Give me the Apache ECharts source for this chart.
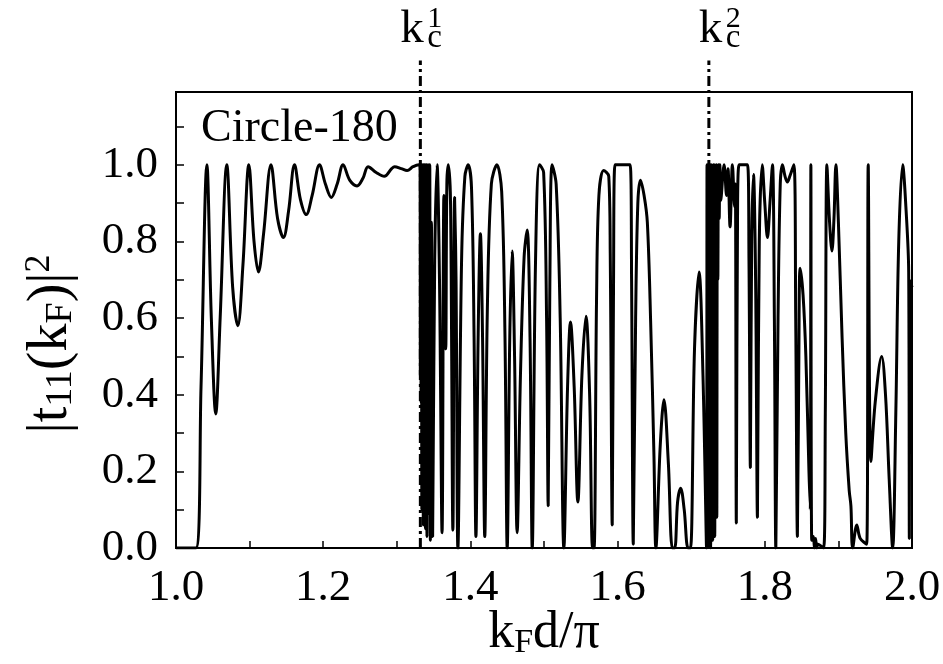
<!DOCTYPE html>
<html>
<head>
<meta charset="utf-8">
<script src="https://cdn.jsdelivr.net/npm/echarts@6/dist/echarts.min.js"></script>
<style>
  html, body { margin: 0; padding: 0; background: #fff; }
  #main { width: 943px; height: 664px; }
</style>
</head>
<body>
<div id="main"></div>
<script>
// |t11(kF)|^2 against kF d / pi as [x, y] pairs
const fabryPerot = [
  [1.000, 0], [1.027, 0], [1.034, 0.42], [1.042, 1.0], [1.048, 0.6], [1.054, 0.35],
  [1.060, 0.6], [1.069, 1.0], [1.077, 0.68], [1.084, 0.58], [1.091, 0.74], [1.099, 1.0],
  [1.106, 0.8], [1.112, 0.72], [1.119, 0.82], [1.129, 1.0], [1.138, 0.86], [1.146, 0.81],
  [1.153, 0.88], [1.161, 1.0], [1.169, 0.91], [1.177, 0.87], [1.185, 0.92], [1.195, 1.0],
  [1.203, 0.95], [1.211, 0.915], [1.219, 0.95], [1.227, 1.0], [1.236, 0.96], [1.246, 0.945],
  [1.254, 0.965], [1.261, 0.995], [1.272, 0.98], [1.283, 0.97], [1.293, 0.99], [1.297, 0.995],
  [1.306, 0.99], [1.314, 0.985], [1.322, 0.995], [1.330, 1.0]
];
const bandOne = [
  [1.3315, 1.0], [1.3320, 0.45], [1.3325, 1.0], [1.3330, 0.38], [1.3335, 1.0], [1.3340, 0.1],
  [1.3345, 1.0], [1.3350, 0.42], [1.3355, 0.99], [1.3360, 0.06], [1.3365, 1.0], [1.3370, 0.38],
  [1.3375, 1.0], [1.3380, 0.4], [1.3385, 0.98], [1.3390, 0.05], [1.3395, 1.0], [1.3400, 0.37],
  [1.3405, 1.0], [1.3410, 0.03], [1.3415, 0.99], [1.3420, 0.4], [1.3425, 1.0], [1.3430, 0.09],
  [1.3436, 0.98], [1.3442, 0.38], [1.3448, 1.0], [1.3456, 0.02], [1.3470, 0.85], [1.3487, 0.03]
];
const middleBand = [
  [1.3515, 0.75], [1.3547, 1.0], [1.3580, 0.7], [1.3615, 0.04], [1.3640, 0.92], [1.3665, 0.52],
  [1.3680, 0.95], [1.3700, 1.0], [1.3730, 0.9], [1.3762, 0.047], [1.3785, 0.915], [1.3805, 0.7],
  [1.3830, 0.0], [1.3880, 0.75], [1.3925, 0.97], [1.3970, 1.0], [1.4015, 0.94], [1.4050, 0.55],
  [1.4075, 0.03], [1.4105, 0.55], [1.4136, 0.82], [1.4165, 0.55], [1.4195, 0.03], [1.4230, 0.62],
  [1.4285, 0.95], [1.4360, 1.0], [1.4425, 0.93], [1.4470, 0.55], [1.4500, 0.0], [1.4535, 0.55],
  [1.4567, 0.775], [1.4600, 0.5], [1.4635, 0.04], [1.4680, 0.45], [1.4730, 0.76], [1.4771, 0.83],
  [1.4810, 0.55], [1.4840, 0.0], [1.4885, 0.75], [1.4940, 1.0], [1.4995, 0.98], [1.5035, 0.6],
  [1.5057, 0.11], [1.5080, 0.7], [1.5110, 1.0], [1.5165, 0.95], [1.5220, 0.6], [1.5270, 0.0],
  [1.5320, 0.42], [1.5360, 0.59], [1.5410, 0.42], [1.5460, 0.12], [1.5515, 0.45], [1.5570, 0.605],
  [1.5620, 0.4], [1.5660, 0.0]
];
const upperBand = [
  [1.5680, 0.0], [1.5714, 0.65], [1.5746, 0.92], [1.5810, 0.985], [1.5880, 0.97], [1.5900, 0.77],
  [1.5927, 0.06], [1.5945, 0.7], [1.5965, 1.0], [1.6070, 1.0], [1.6170, 1.0], [1.6190, 0.7],
  [1.6213, 0.01], [1.6245, 0.6], [1.6275, 0.9], [1.6310, 0.96], [1.6360, 0.92], [1.6404, 0.85],
  [1.6449, 0.59], [1.6494, 0.24], [1.6520, 0.0], [1.6580, 0.27], [1.6630, 0.387], [1.6690, 0.22],
  [1.6744, 0.0], [1.6776, 0.0], [1.6815, 0.12], [1.6857, 0.156], [1.6905, 0.1], [1.6957, 0.0],
  [1.6990, 0.0], [1.7045, 0.52], [1.7107, 0.72], [1.7160, 0.45], [1.7208, 0.0]
];
const bandTwo = [
  [1.7215, 1.0], [1.7222, 0.08], [1.7229, 1.0], [1.7236, 0.02], [1.7243, 0.98], [1.7250, 0.3],
  [1.7257, 1.0], [1.7264, 0.0], [1.7271, 1.0], [1.7278, 0.15], [1.7285, 0.99], [1.7292, 0.02],
  [1.7299, 1.0], [1.7306, 0.45], [1.7313, 1.0], [1.7320, 0.03], [1.7327, 0.97], [1.7334, 0.5],
  [1.7341, 1.0], [1.7348, 0.08], [1.7355, 0.98], [1.7362, 0.7], [1.7370, 1.0], [1.7380, 0.86],
  [1.7390, 1.0], [1.7401, 0.907]
];
const topBand = [
  [1.7447, 1.0], [1.7480, 0.92], [1.7500, 0.99], [1.7528, 0.838], [1.7560, 1.0], [1.7590, 0.89],
  [1.7600, 0.95], [1.7613, 0.065], [1.7628, 0.8], [1.7650, 1.0], [1.7710, 1.0], [1.7765, 1.0],
  [1.7785, 0.75], [1.7804, 0.21], [1.7822, 0.8], [1.7846, 0.975], [1.7875, 0.7], [1.7900, 0.08],
  [1.7925, 0.8], [1.7965, 1.0], [1.8000, 0.9], [1.8036, 0.81], [1.8070, 0.9], [1.8104, 1.0],
  [1.8130, 0.6], [1.8150, 0.0], [1.8180, 0.6], [1.8210, 0.95], [1.8240, 1.0], [1.8275, 0.97],
  [1.8307, 0.955], [1.8340, 0.97], [1.8395, 1.0], [1.8420, 0.6], [1.8443, 0.03], [1.8463, 0.5],
  [1.8480, 0.73], [1.8520, 0.66], [1.8558, 0.5], [1.8600, 0.2], [1.8618, 0.1], [1.8626, 1.0],
  [1.8638, 0.02], [1.8660, 0.03], [1.8675, 0.0], [1.8690, 0.025], [1.8705, 0.0], [1.8720, 0.01],
  [1.8800, 0.0], [1.8822, 0.35], [1.8844, 1.0], [1.8880, 0.85], [1.8912, 0.775], [1.8940, 0.86],
  [1.8966, 1.0], [1.9000, 0.85], [1.9050, 0.55], [1.9100, 0.3], [1.9147, 0.15], [1.9170, 0.11],
  [1.9194, 0.0], [1.9250, 0.06], [1.9296, 0.025], [1.9385, 0.01], [1.9405, 1.0], [1.9442, 0.226],
  [1.9500, 0.38], [1.9588, 0.5], [1.9640, 0.4], [1.9690, 0.18], [1.9737, 0.0], [1.9780, 0.35],
  [1.9820, 0.8], [1.9873, 1.0], [1.9920, 0.88], [1.9955, 0.72], [1.9964, 0.025], [1.9975, 0.7],
  [2.0000, 0.68]
];

// critical wave numbers (dash-dot markers) and how high the markers reach
const KC = [1.332, 1.724];
const KC_SUP = ['1', '2'];
const KC_TOP = 1.272;

const SERIF = '"Liberation Serif", "Times New Roman", serif';

var chartDom = document.getElementById('main');
var myChart = echarts.init(chartDom);
var option;

const curve = fabryPerot.concat(bandOne, middleBand, upperBand, bandTwo, topBand);

function everyOther(v) {
  const tenth = Math.round(v * 10);
  if (tenth % 2 !== 0 || v > 2.0001) return '';
  return (tenth / 10).toFixed(1);
}

function kcSeries() {
  return KC.map(k => ({
    type: 'line',
    data: [[k, 0], [k, KC_TOP]],
    symbol: 'none',
    clip: false,
    silent: true,
    lineStyle: { color: '#000', width: 3, type: [10, 4, 3, 4] },
    z: 3
  }));
}

option = {
  backgroundColor: '#fff',
  animation: false,
  title: {
    text: 'Circle-180',
    left: 201,
    top: 106,
    padding: 0,
    textStyle: { fontFamily: SERIF, fontSize: 46, fontWeight: 'normal', color: '#000' }
  },
  grid: {
    left: 176, right: 31, top: 92, bottom: 116,
    show: true, borderColor: '#000', borderWidth: 2,
    outerBoundsMode: 'none'
  },
  xAxis: {
    type: 'value',
    min: 1, max: 2, interval: 0.1,
    name: 'k{s|F}d/π',
    nameLocation: 'middle',
    nameGap: 58,
    nameMoveOverlap: false,
    nameTextStyle: {
      fontFamily: SERIF, fontSize: 52, color: '#000', lineHeight: 54,
      rich: { s: { fontFamily: SERIF, fontSize: 34, color: '#000', verticalAlign: 'bottom', lineHeight: 7 } }
    },
    axisLine: { lineStyle: { color: '#000', width: 2 } },
    axisTick: { inside: true, length: 7, lineStyle: { color: '#000', width: 1.5 } },
    axisLabel: {
      margin: 18, color: '#000', fontFamily: SERIF, fontSize: 45,
      formatter: everyOther, showMinLabel: true, showMaxLabel: true
    },
    splitLine: { show: false }
  },
  yAxis: {
    type: 'value',
    min: 0, max: 1.19, interval: 0.1,
    name: '|t{s|11}(k{s|F})|{p|2}',
    nameLocation: 'middle',
    nameRotate: 90,
    nameGap: 96,
    nameMoveOverlap: false,
    nameTextStyle: {
      fontFamily: SERIF, fontSize: 56, color: '#000', lineHeight: 58,
      padding: [0, 48, 0, 0],
      rich: {
        s: { fontFamily: SERIF, fontSize: 38, color: '#000', verticalAlign: 'bottom', lineHeight: 24 },
        p: { fontFamily: SERIF, fontSize: 36, color: '#000', verticalAlign: 'top', lineHeight: 2 }
      }
    },
    axisLine: { lineStyle: { color: '#000', width: 2 } },
    axisTick: { inside: true, length: 8, lineStyle: { color: '#000', width: 1.5 } },
    axisLabel: {
      margin: 18, color: '#000', fontFamily: SERIF, fontSize: 45,
      formatter: v => (v > 1.0001 ? '' : everyOther(v))
    },
    splitLine: { show: false }
  },
  series: [
    {
      type: 'line',
      data: curve,
      symbol: 'none',
      smooth: 0.35,
      lineStyle: { color: '#000', width: 3 },
      z: 4
    }
  ].concat(kcSeries())
};

option && myChart.setOption(option);

// k_c labels above the dash-dot markers
const KC_SHIFT = [-20, -10];
const kcLabels = [];
KC.forEach((k, i) => {
  const p = myChart.convertToPixel({ gridIndex: 0 }, [k, KC_TOP]);
  const x0 = p[0] + KC_SHIFT[i];
  kcLabels.push({
    type: 'text', x: x0, y: 30,
    style: { text: 'k', font: '47px ' + SERIF, fill: '#000', verticalAlign: 'middle' }
  });
  kcLabels.push({
    type: 'text', x: x0 + 27, y: 38,
    style: { text: 'c', font: '33px ' + SERIF, fill: '#000', verticalAlign: 'middle' }
  });
  kcLabels.push({
    type: 'text', x: x0 + 27, y: 19,
    style: { text: KC_SUP[i], font: '30px ' + SERIF, fill: '#000', verticalAlign: 'middle' }
  });
});
myChart.setOption({ graphic: kcLabels });
</script>
</body>
</html>
